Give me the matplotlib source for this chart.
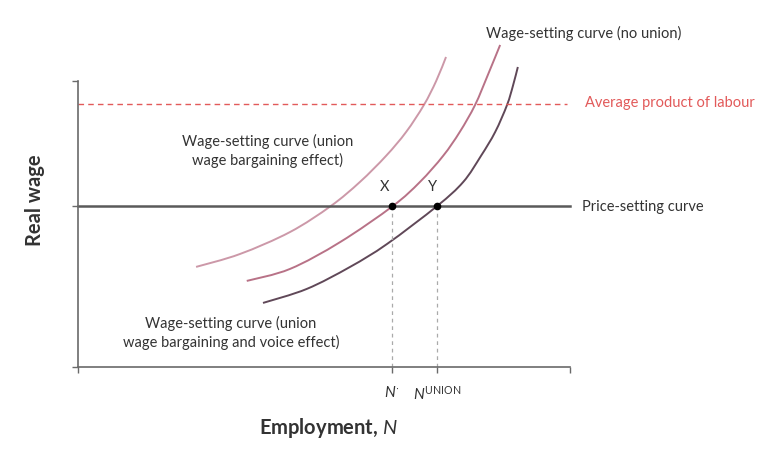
import matplotlib
matplotlib.use('Agg')
import matplotlib.pyplot as plt
from matplotlib.path import Path
from matplotlib.patches import PathPatch
import numpy as np

# employment (0-100) and real wage (0-100)
ws_voice_n = [24.0, 32.9, 43.1, 51.4, 57.3, 62.6, 66.7, 70.3, 72.8, 74.8]
ws_voice_w = [35.0, 39.5, 47.2, 56.3, 64.7, 73.8, 82.2, 91.6, 100.0, 108.4]
ws_bargain_n = [34.3, 43.1, 53.3, 64.0, 69.5, 74.2, 77.6, 80.7, 83.3, 85.8]
ws_bargain_w = [30.1, 34.3, 43.7, 56.3, 64.7, 73.8, 82.2, 91.6, 102.1, 112.6]
ws_nounion_n = [37.6, 46.5, 55.3, 62.8, 73.0, 78.3, 81.9, 84.8, 87.2, 88.4,
                89.4]
ws_nounion_w = [22.4, 27.3, 35.0, 43.0, 56.3, 64.7, 73.8, 82.2, 91.6, 98.3,
                104.9]

price_setting = 56.3
avg_product = 92.0
n_star = 63.8
n_union = 73.0

TEXT = '#333333'
GREY = '#5a5a5a'


def plotting_config():
    plt.rcParams.update({
        'font.family': ['Lato', 'DejaVu Sans'],
        'font.size': 10.5,
        'mathtext.fontset': 'custom',
        'mathtext.rm': 'Lato',
        'mathtext.it': 'Lato:italic',
        'mathtext.bf': 'Lato:bold',
        'text.color': TEXT,
    })


def smooth_path(xs, ys):
    # catmull-rom through the read points, drawn as cubic bezier segments
    pts = np.column_stack([xs, ys])
    verts = [pts[0]]
    codes = [Path.MOVETO]
    for i in range(len(pts) - 1):
        p0 = pts[max(i - 1, 0)]
        p1 = pts[i]
        p2 = pts[i + 1]
        p3 = pts[min(i + 2, len(pts) - 1)]
        verts += [p1 + (p2 - p0) / 6, p2 - (p3 - p1) / 6, p2]
        codes += [Path.CURVE4] * 3
    return Path(verts, codes)


def main():
    plotting_config()
    fig = plt.figure(figsize=(7.7, 4.56), dpi=100)
    ax = fig.add_axes([78 / 770, 88 / 456, 492 / 770, 286 / 456])
    ax.set_xlim(0, 100)
    ax.set_ylim(0, 100)
    for side in ('top', 'right'):
        ax.spines[side].set_visible(False)
    for side in ('left', 'bottom'):
        ax.spines[side].set_color('#6a6a6a')
        ax.spines[side].set_linewidth(1.2)

    ax.set_xticks([0, n_star, n_union, 100])
    ax.set_xticklabels(['', r'$N^{\cdot}$', r'$N^{\mathrm{UNION}}$', ''])
    ax.set_yticks([0, price_setting, 100])
    ax.set_yticklabels([])
    ax.tick_params(length=4, width=1, color='#6a6a6a', labelsize=11,
                   labelcolor=TEXT, pad=8)

    curves = [
        (ws_voice_n, ws_voice_w, '#cc98a8'),
        (ws_bargain_n, ws_bargain_w, '#b87287'),
        (ws_nounion_n, ws_nounion_w, '#604858'),
    ]
    for xs, ys, col in curves:
        ax.add_patch(PathPatch(smooth_path(xs, ys), facecolor='none',
                               edgecolor=col, lw=1.4, clip_on=False))

    ax.plot([0, 100], [price_setting, price_setting], color=GREY, lw=1.8,
            clip_on=False)
    ax.plot([0, 99.4], [avg_product, avg_product], color='#e25a5a', lw=1,
            ls=(0, (4, 3)), clip_on=False)
    for n in (n_star, n_union):
        ax.plot([n, n], [0, price_setting], color='#aaaaaa', lw=0.9,
                ls=(0, (3, 3)))
    ax.plot([n_star, n_union], [price_setting, price_setting], 'o',
            color='k', ms=4.5, zorder=5)

    ax.text(n_star - 1.5, price_setting + 4.5, 'X', ha='center', va='bottom')
    ax.text(n_union - 1, price_setting + 4.5, 'Y', ha='center', va='bottom')

    ax.text(102.4, price_setting, 'Price-setting curve', ha='left',
            va='center')
    ax.text(103.0, avg_product + 0.5, 'Average product of labour',
            ha='left', va='center', color='#e25a5a')
    ax.text(102.8, 117.1, 'Wage-setting curve (no union)', ha='center',
            va='center', clip_on=False)
    ax.text(38.6, 76.0, 'Wage-setting curve (union\nwage bargaining effect)',
            ha='center', va='center', linespacing=1.35)
    ax.text(31.1, 12.2,
            'Wage-setting curve (union\nwage bargaining and voice effect)',
            ha='center', va='center', linespacing=1.35)

    fig.text(328 / 770, 1 - 428 / 456, r'Employment, $\mathbf{\mathit{N}}$',
             ha='center', va='center', fontsize=14.5, fontweight='bold')
    fig.text(35 / 770, 1 - 200 / 456, 'Real wage', ha='center', va='center',
             rotation=90, fontsize=14.5, fontweight='bold')

    fig.savefig('out.png', dpi=100, facecolor='white')


if __name__ == "__main__":
    main()
